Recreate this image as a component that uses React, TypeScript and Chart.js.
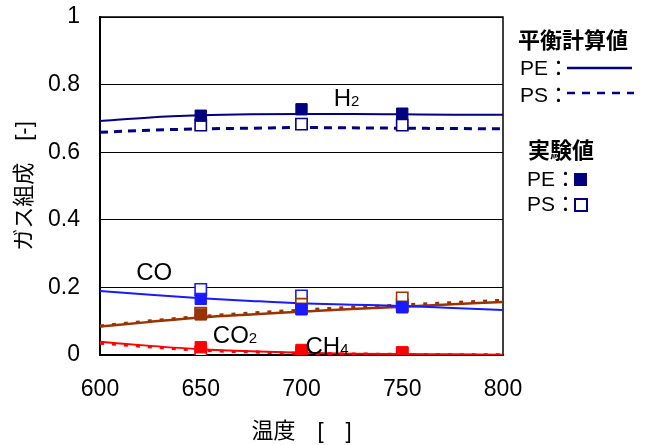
import React, { useEffect, useRef } from "react";
import { Chart, registerables } from "chart.js";
Chart.register(...registerables);

const FONT = "'Liberation Sans', 'Noto Sans CJK JP', sans-serif";

// equilibrium calculation curves
const eqTemps = [600, 625, 650, 675, 700, 725, 750, 775, 800];
const h2EqPE = [0.692, 0.703, 0.709, 0.712, 0.713, 0.713, 0.712, 0.711, 0.711];
const h2EqPS = [0.659, 0.665, 0.669, 0.671, 0.673, 0.672, 0.671, 0.670, 0.669];
const coEqPE = [0.189, 0.178, 0.168, 0.160, 0.153, 0.149, 0.145, 0.139, 0.133];
const co2EqPE = [0.084, 0.098, 0.111, 0.120, 0.128, 0.136, 0.143, 0.150, 0.157];
const co2EqPS = [0.086, 0.101, 0.114, 0.124, 0.133, 0.141, 0.148, 0.155, 0.162];
const ch4EqPE = [0.039, 0.027, 0.017, 0.011, 0.007, 0.004, 0.003, 0.002, 0.001];
const ch4EqPS = [0.035, 0.024, 0.014, 0.009, 0.005, 0.003, 0.002, 0.001, 0.001];

// experimental values
const expTemps = [650, 700, 750];
const h2ExpPE = [0.708, 0.727, 0.714];
const h2ExpPS = [0.680, 0.683, 0.680];
const coExpPE = [0.166, 0.135, 0.141];
const coExpPS = [0.194, 0.175, 0.148];
const co2ExpPE = [0.120, 0.137, 0.143];
const co2ExpPS = [0.124, 0.150, 0.169];
const ch4ExpPE = [0.023, 0.015, 0.008];
const ch4ExpPS = [0.009, 0.007, 0.005];

const xTicks = [600, 650, 700, 750, 800];
const yTicks = [0, 0.2, 0.4, 0.6, 0.8, 1];

// species labels (data coordinates)
const labelMain = ["H", "CO", "CO", "CH"];
const labelSub = ["2", "", "2", "4"];
const labelX = [716, 618, 656, 702];
const labelY = [0.737, 0.222, 0.036, 0.003];

const NAVY = "#000080";
const BLUE = "#1a1aff";
const BROWN = "#993300";
const RED = "#ff0000";

const pts = (xs: number[], ys: number[]) => xs.map((x, i) => ({ x, y: ys[i] }));

const lineDs = (xs: number[], ys: number[], color: string, width: number, dash: number[] = []) => ({
  data: pts(xs, ys),
  borderColor: color,
  borderWidth: width,
  borderDash: dash,
  pointRadius: 0,
  tension: 0.4,
  cubicInterpolationMode: "monotone" as const,
  fill: false,
});

const markDs = (xs: number[], ys: number[], color: string, filled: boolean) => ({
  data: pts(xs, ys),
  showLine: false,
  pointStyle: "rect" as const,
  pointRadius: 8,
  pointBorderWidth: filled ? 1 : 1.6,
  pointBackgroundColor: filled ? color : "#ffffff",
  pointBorderColor: color,
  borderColor: color,
});

const framePlugin = {
  id: "frame",
  beforeDatasetsDraw(chart: any) {
    const { ctx, chartArea: a } = chart;
    ctx.save();
    ctx.strokeStyle = "#000";
    ctx.lineWidth = 1.5;
    ctx.beginPath();
    ctx.moveTo(a.left, a.top);
    ctx.lineTo(a.right, a.top);
    ctx.lineTo(a.right, a.bottom);
    ctx.stroke();
    ctx.lineWidth = 2;
    ctx.beginPath();
    ctx.moveTo(a.left, a.top);
    ctx.lineTo(a.left, a.bottom);
    ctx.lineTo(a.right, a.bottom);
    ctx.stroke();
    ctx.restore();
  },
};

const textPlugin = {
  id: "texts",
  afterDraw(chart: any) {
    const { ctx, scales } = chart;
    const xs = scales.x;
    const ys = scales.y;
    ctx.save();
    ctx.fillStyle = "#000";
    ctx.textAlign = "left";
    ctx.textBaseline = "alphabetic";
    for (let i = 0; i < labelMain.length; i++) {
      const px = xs.getPixelForValue(labelX[i]);
      const py = ys.getPixelForValue(labelY[i]);
      ctx.font = `24px ${FONT}`;
      ctx.fillText(labelMain[i], px, py);
      const w = ctx.measureText(labelMain[i]).width;
      if (labelSub[i]) {
        ctx.font = `15px ${FONT}`;
        ctx.fillText(labelSub[i], px + w, py);
      }
    }

    // legend
    ctx.textBaseline = "middle";
    ctx.font = `bold 22px ${FONT}`;
    ctx.fillText("平衡計算値", 518, 42);
    ctx.font = `21px ${FONT}`;
    ctx.fillText("PE：", 520, 69);
    ctx.fillText("PS：", 520, 96);
    ctx.strokeStyle = NAVY;
    ctx.lineWidth = 2.5;
    ctx.beginPath();
    ctx.moveTo(567, 68);
    ctx.lineTo(632, 68);
    ctx.stroke();
    ctx.setLineDash([8, 7]);
    ctx.beginPath();
    ctx.moveTo(567, 93);
    ctx.lineTo(634, 93);
    ctx.stroke();
    ctx.setLineDash([]);

    ctx.font = `bold 22px ${FONT}`;
    ctx.fillText("実験値", 528, 152);
    ctx.font = `21px ${FONT}`;
    ctx.fillText("PE：", 527, 180);
    ctx.fillText("PS：", 527, 205);
    ctx.fillStyle = NAVY;
    ctx.fillRect(574, 173, 13, 13);
    ctx.strokeStyle = NAVY;
    ctx.lineWidth = 2;
    ctx.strokeRect(575, 199, 12, 12);
    ctx.restore();
  },
};

export default function App() {
  const ref = useRef<HTMLCanvasElement>(null);
  useEffect(() => {
    if (!ref.current) return;
    const tickFont = { family: FONT, size: 23 };
    const chart = new Chart(ref.current, {
      type: "line",
      data: {
        datasets: [
          markDs(expTemps, coExpPE, BLUE, true),
          markDs(expTemps, h2ExpPE, NAVY, true),
          markDs(expTemps, ch4ExpPE, RED, true),
          markDs(expTemps, co2ExpPE, BROWN, true),
          markDs(expTemps, co2ExpPS, BROWN, false),
          markDs(expTemps, coExpPS, BLUE, false),
          markDs(expTemps, h2ExpPS, NAVY, false),
          markDs(expTemps, ch4ExpPS, RED, false),
          lineDs(eqTemps, h2EqPE, NAVY, 2),
          lineDs(eqTemps, h2EqPS, NAVY, 3, [8, 6]),
          lineDs(eqTemps, coEqPE, BLUE, 2),
          lineDs(eqTemps, co2EqPE, BROWN, 2.5),
          lineDs(eqTemps, co2EqPS, BROWN, 3, [4, 8]),
          lineDs(eqTemps, ch4EqPE, RED, 2),
          lineDs(eqTemps, ch4EqPS, RED, 3, [4, 8]),
        ] as any,
      },
      options: {
        animation: false,
        responsive: false,
        devicePixelRatio: 1,
        layout: { padding: { top: 17, right: 146, left: 0, bottom: 0 } },
        plugins: { legend: { display: false }, tooltip: { enabled: false } },
        scales: {
          x: {
            type: "linear",
            min: 600,
            max: 800,
            afterBuildTicks: (axis: any) => {
              axis.ticks = xTicks.map((v) => ({ value: v }));
            },
            afterFit: (axis: any) => {
              axis.height = 90;
              axis.paddingLeft = 0;
              axis.paddingRight = 0;
            },
            grid: { display: false, drawTicks: false },
            border: { color: "#000", width: 2 },
            ticks: { font: tickFont, color: "#000", padding: 21 },
            title: {
              display: true,
              text: "温度　[　]",
              font: { family: FONT, size: 22 },
              color: "#000",
              padding: { top: 0, bottom: 0 },
            },
          },
          y: {
            type: "linear",
            min: 0,
            max: 1,
            afterBuildTicks: (axis: any) => {
              axis.ticks = yTicks.map((v) => ({ value: v }));
            },
            afterFit: (axis: any) => {
              axis.width = 100;
              axis.paddingTop = 0;
              axis.paddingBottom = 0;
            },
            grid: { color: "#000", lineWidth: 1, drawTicks: false },
            border: { color: "#000", width: 2 },
            ticks: {
              font: tickFont,
              color: "#000",
              padding: 20,
              callback: (v: any) => String(Number(v)),
            },
            title: {
              display: true,
              text: "ガス組成　[-]",
              font: { family: FONT, size: 22 },
              color: "#000",
              padding: { top: 12, bottom: 0 },
            },
          },
        },
      },
      plugins: [framePlugin, textPlugin],
    });
    return () => chart.destroy();
  }, []);
  return (
    <div style={{ position: "fixed", left: 0, top: 0, width: 649, height: 445, background: "#fff" }}>
      <canvas ref={ref} width={649} height={445} style={{ display: "block" }} />
    </div>
  );
}
